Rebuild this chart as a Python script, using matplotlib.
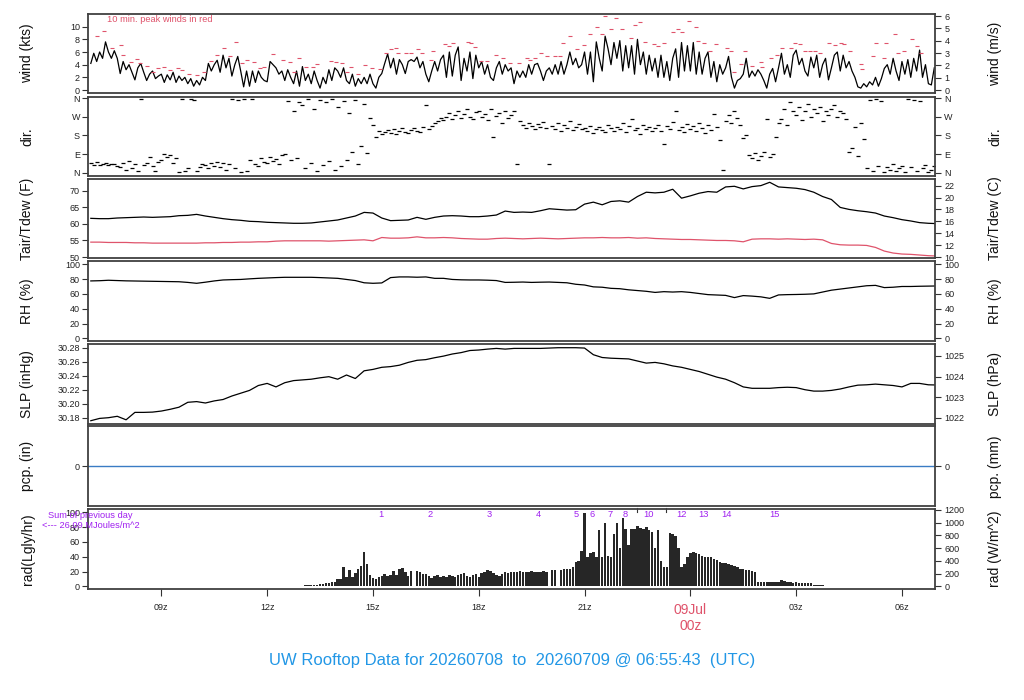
import numpy as np
import matplotlib
matplotlib.use('Agg')
import matplotlib.pyplot as plt

plt.rcParams['font.family'] = ['Liberation Sans', 'DejaVu Sans']

# ---------------- data (hours since 00z 8 Jul) ----------------
wind_start, wind_step = 7.0, 1.0 / 12.0
wind_kts = [
    4.2, 5.8, 4.5, 6.0, 5.0, 7.6, 6.0, 5.0, 6.2, 5.0, 2.6, 4.5,
    3.2, 4.0, 2.8, 1.6, 3.5, 4.2, 2.8, 1.5, 2.5, 3.0, 1.8, 2.2,
    2.5, 1.2, 2.4, 1.6, 2.8, 1.2, 2.2, 1.5, 2.0, 1.0, 1.8, 0.6,
    1.5, 0.8, 2.0, 1.5, 4.2, 3.0, 4.0, 4.7, 2.8, 5.5, 3.5, 5.0,
    2.2, 4.0, 5.3, 3.0, 0.5, 3.0, 0.6, 3.0, 1.2, 3.0, 2.0, 1.5,
    1.3, 4.5, 4.0, 3.5, 2.5, 3.0, 1.5, 3.2, 2.0, 1.0, 3.0, 0.6,
    3.7, 1.5, 2.5, 1.0, 3.0, 1.5, 0.3, 2.0, 1.0, 3.2, 1.5, 3.5,
    3.0, 2.0, 3.5, 1.5, 1.0, 2.5, 0.6, 1.8, 1.0, 2.0, 1.0, 2.5,
    1.0, 0.3, 2.0, 2.6, 4.2, 5.7, 3.5, 5.0, 2.5, 4.8, 4.0, 2.6,
    4.5, 4.8, 4.5, 5.2, 3.5, 4.5, 2.5, 1.3, 3.0, 4.5, 3.0, 4.8,
    5.5, 2.0, 6.0, 2.2, 5.5, 6.8, 1.5, 5.0, 3.0, 6.0, 1.8, 5.5,
    3.5, 4.5, 2.5, 4.0, 2.0, 1.5, 3.5, 4.5, 2.5, 4.0, 3.0, 3.5,
    1.0, 3.0, 2.0, 3.0, 2.0, 4.0, 2.5, 4.0, 4.2, 3.0, 1.5, 3.0,
    3.5, 2.5, 4.0, 2.5, 4.5, 2.5, 4.0, 6.0, 4.0, 5.0, 3.5, 4.0,
    6.0, 2.5, 6.0, 1.3, 7.6, 5.0, 3.0, 8.5, 6.5, 4.0, 7.5, 5.0,
    7.8, 3.0, 7.0, 3.5, 7.0, 2.5, 8.0, 4.0, 6.0, 2.5, 5.5, 3.0,
    5.0, 2.0, 5.5, 2.0, 4.5, 1.5, 5.0, 6.5, 2.0, 7.5, 3.0, 7.0,
    3.0, 7.5, 2.5, 6.0, 2.5, 5.0, 6.0, 2.0, 4.5, 1.3, 4.0, 2.5,
    3.5, 5.3, 2.0, 0.3, 1.5, 1.8, 2.5, 5.0, 2.0, 3.0, 2.2, 3.2,
    2.5, 1.5, 0.3, 2.5, 3.4, 1.3, 3.5, 5.8, 2.5, 4.0, 2.0, 5.5,
    6.3, 4.0, 5.0, 3.0, 2.2, 5.2, 3.5, 5.5, 2.0, 4.0, 5.0, 1.6,
    3.5, 5.5, 6.0, 3.0, 5.5, 3.5, 4.5, 3.0, 2.0, 0.5, 0.3, 1.0,
    0.5, 1.3, 0.8, 2.0, 0.6, 1.8, 3.4, 4.0, 2.5, 5.0, 3.0, 1.5,
    4.5, 2.5, 4.8, 2.0, 5.0, 3.0, 6.3, 2.0, 4.0, 1.0, 0.8, 3.5,
]
wind_dir = [
    45, 38, 50, 35, 42, 48, 36, 44, 40, 30, 25, 45,
    15, 55, 20, 40, 10, 358, 35, 45, 75, 30, 10, 50,
    60, 90, 75, 85, 45, 70, 5, 355, 10, 20, 358, 350,
    10, 25, 40, 35, 20, 45, 30, 50, 25, 45, 15, 40,
    358, 20, 352, 5, 355, 10, 60, 355, 40, 30, 70, 50,
    45, 78, 55, 65, 40, 85, 90, 345, 60, 300, 70, 340,
    330, 20, 355, 45, 310, 10, 350, 35, 340, 55, 358, 15,
    320, 30, 345, 60, 290, 100, 350, 40, 130, 335, 95, 265,
    230, 175, 200, 185, 195, 205, 190, 210, 185, 200, 215, 195,
    190, 205, 215, 200, 195, 220, 330, 210, 225, 240, 250, 265,
    255, 270, 290, 260, 280, 300, 265, 285, 310, 270, 260, 295,
    300, 270, 285, 255, 310, 175, 275, 290, 240, 300, 265, 280,
    300, 40, 250, 230, 215, 240, 225, 210, 235, 220, 245, 215,
    42, 225, 210, 240, 200, 230, 215, 250, 205, 220, 235, 210,
    215, 200, 225, 190, 210, 220, 205, 195, 230, 215, 200, 220,
    210, 240, 195, 225, 260, 205, 215, 185, 230, 210, 220, 200,
    215, 230, 200, 140, 225, 210, 245, 300, 205, 220, 195, 235,
    210, 225, 200, 240, 215, 190, 230, 205, 285, 220, 160, 15,
    250, 280, 240, 300, 265, 230, 170, 180, 85, 70, 95, 60,
    80, 100, 260, 75, 90, 175, 240, 260, 310, 230, 340, 300,
    280, 320, 255, 300, 335, 270, 310, 290, 320, 250, 300, 280,
    310, 330, 270, 300, 290, 260, 100, 120, 220, 80, 240, 165,
    20, 350, 10, 355, 30, 345, 5, 25, 15, 40, 10, 20,
    30, 5, 355, 25, 350, 10, 345, 20, 35, 5, 15, 30,
]
peak_t = [7.17, 7.38, 7.61, 7.85, 7.90, 8.13, 8.32, 8.40, 8.58, 8.76, 8.91, 9.07,
          9.24, 9.47, 9.59, 9.78, 10.02, 10.21, 10.42, 10.58, 10.77, 10.96, 11.13,
          11.29, 11.43, 11.64, 11.79, 11.92, 12.17, 12.45, 12.64, 12.77, 12.90,
          13.10, 13.30, 13.42, 13.80, 13.96, 14.11, 14.25, 14.39, 14.59, 14.77,
          14.96, 15.19, 15.38, 15.50, 15.64, 15.72, 15.94, 16.07, 16.28, 16.40,
          16.66, 16.71, 17.03, 17.17, 17.27, 17.70, 17.79, 17.89, 18.05, 18.22,
          18.49, 18.68, 18.90, 19.14, 19.36, 19.45, 19.59, 19.77, 19.94, 20.16,
          20.30, 20.40, 20.60, 20.79, 20.98, 21.15, 21.34, 21.50, 21.58, 21.74,
          21.89, 22.07, 22.32, 22.43, 22.57, 22.72, 22.96, 23.08, 23.25, 23.51,
          23.64, 23.75, 23.95, 24.15, 24.22, 24.38, 24.57, 24.74, 25.04, 25.15,
          25.24, 25.45, 25.54, 25.74, 26.00, 26.02, 26.30, 26.46, 26.59, 26.84,
          26.96, 27.10, 27.25, 27.40, 27.53, 27.69, 27.94, 28.10, 28.26, 28.37,
          28.54, 28.85, 28.88, 29.17, 29.25, 29.50, 29.56, 29.81, 29.88, 30.07,
          30.28, 30.43, 30.55]
peak_kts = [8.5, 9.3, 6.6, 7.1, 5.6, 4.5, 4.9, 4.2, 3.8, 2.9, 3.4, 3.7,
            3.1, 3.4, 3.1, 2.5, 2.3, 2.8, 4.6, 5.6, 6.7, 5.4, 7.6,
            4.2, 4.8, 4.5, 3.4, 3.6, 5.7, 4.8, 4.4, 2.8, 5.1,
            3.7, 3.6, 4.1, 4.6, 4.4, 4.2, 2.9, 3.6, 2.5, 3.9,
            3.4, 3.3, 5.8, 6.5, 6.7, 5.8, 5.8, 5.8, 6.4, 5.9,
            4.8, 6.1, 7.2, 6.9, 7.4, 7.6, 7.5, 6.8, 4.6, 4.6,
            5.5, 5.0, 4.3, 4.2, 5.1, 4.8, 5.0, 5.8, 5.4, 5.3,
            5.4, 7.5, 8.5, 6.4, 7.1, 8.9, 9.9, 8.8, 11.7, 9.7,
            11.4, 9.6, 8.2, 10.3, 10.7, 7.6, 7.2, 6.9, 7.4, 9.1,
            9.6, 9.1, 10.9, 9.9, 7.8, 7.5, 6.1, 7.3, 6.6, 6.1,
            2.8, 4.1, 6.1, 3.8, 4.5, 3.6, 5.1, 5.6, 6.6, 6.7,
            7.5, 7.2, 6.1, 6.1, 6.2, 5.8, 7.5, 7.1, 7.4, 7.2,
            6.2, 4.1, 3.3, 5.4, 7.5, 5.0, 7.5, 8.9, 5.8, 6.2,
            8.0, 6.9, 5.8]

th_start, th_step = 7.0, 0.25
tair_f = [61.7, 61.6, 61.6, 61.8, 61.9, 62.0, 62.1, 62.0, 62.1, 62.2, 62.5, 62.6,
          62.9, 62.4, 62.0, 61.6, 61.3, 61.1, 60.8, 60.7, 60.5, 60.4, 60.3, 60.2,
          60.2, 60.3, 60.6, 60.9, 61.2, 61.8, 62.4, 63.5, 63.3, 61.8, 61.0, 61.1,
          61.2, 62.0, 61.4, 62.0, 62.4, 62.5, 62.4, 62.2, 62.2, 62.4, 62.7, 63.9,
          63.5, 63.6, 63.5, 64.0, 64.6, 64.4, 64.2, 64.3, 66.0, 66.6, 65.8, 66.8,
          67.0, 66.6, 68.3, 69.6, 69.4, 69.6, 70.5, 67.8, 68.5, 69.3, 69.8, 69.6,
          71.2, 71.4, 70.6, 71.3, 71.6, 72.6, 71.2, 71.0, 70.8, 70.4, 69.6, 68.3,
          67.4, 65.0, 64.4, 64.0, 63.7, 63.3, 62.4, 61.9, 61.3, 60.9, 60.4, 60.2, 60.1]
tdew_f = [54.5, 54.5, 54.4, 54.4, 54.4, 54.3, 54.3,
          54.2, 54.2, 54.2, 54.2, 54.2, 54.2,
          54.3, 54.3, 54.4, 54.4, 54.5, 54.5, 54.6, 54.6,
          54.8, 54.9, 54.9, 54.9, 54.9, 54.9,
          54.8, 54.9, 55.0, 55.1,
          55.2, 54.9, 55.9, 55.7, 55.7, 55.8, 56.1, 55.8, 55.8, 55.9, 55.8, 55.6,
          55.5, 55.4, 55.4, 55.6, 55.7,
          55.6, 55.5, 55.6, 55.7, 55.6, 55.5, 55.6, 55.7, 55.8,
          55.8, 55.9, 55.8, 55.8, 55.9, 55.7, 55.8, 55.6, 55.5, 55.4, 55.3, 55.3,
          55.2, 55.1, 55.0, 55.0, 54.9, 54.6,
          55.4, 55.5, 55.5, 55.4, 55.5, 55.4, 55.3, 55.4, 55.2,
          54.1, 53.7, 53.6, 53.6, 53.5, 52.9, 51.8, 51.2, 50.9, 50.8, 50.6, 50.4, 50.3]
rh_pct = [77.5, 77.8, 78.4, 78.0, 77.6, 77.4, 77.2,
          77.0, 76.8, 76.6, 76.4, 75.5, 74.3,
          75.8, 77.5, 78.8, 79.2, 79.5, 80.3, 81.0, 81.5,
          82.0, 82.4, 82.4, 82.4, 82.4, 82.0,
          81.5, 81.0, 79.5, 78.0,
          75.0, 74.3, 74.8, 82.0, 82.9, 82.9, 82.5, 82.9, 81.0, 81.0, 79.5, 79.0,
          78.8, 78.8, 78.5, 78.0, 75.5,
          75.7, 76.0, 75.5, 75.8, 76.0, 75.5, 75.0, 73.0, 72.0,
          69.5, 69.0, 67.5, 67.0, 65.5, 64.5, 63.5, 62.0, 63.0, 62.5, 63.0, 62.0,
          60.5, 59.0, 58.5, 58.0, 55.0, 57.7,
          57.0, 56.0, 54.0, 58.6, 59.0, 59.2, 59.5, 60.0, 62.5,
          65.0, 66.5, 68.0, 69.5, 71.0, 71.5, 68.5, 69.0, 70.0, 70.0, 70.3, 70.5, 70.7]
slp_inhg = [30.1757, 30.179, 30.180, 30.182, 30.177, 30.1876, 30.1876, 30.188,
            30.1895, 30.192, 30.195, 30.202, 30.203, 30.201, 30.204, 30.206,
            30.211, 30.215, 30.219, 30.226, 30.229, 30.224, 30.230, 30.233,
            30.234, 30.235, 30.237, 30.2386, 30.235, 30.241, 30.236, 30.247,
            30.249, 30.252, 30.253, 30.255, 30.259, 30.262, 30.263, 30.2657,
            30.268, 30.271, 30.273, 30.276, 30.2767, 30.278, 30.279, 30.278,
            30.279, 30.279, 30.279, 30.279, 30.2795, 30.280, 30.280, 30.280,
            30.2795, 30.270, 30.266, 30.265, 30.2645, 30.264, 30.261, 30.258,
            30.259, 30.257, 30.254, 30.252, 30.249, 30.246, 30.242, 30.238,
            30.235, 30.230, 30.224, 30.222, 30.222, 30.222, 30.223, 30.2235,
            30.223, 30.220, 30.218, 30.218, 30.219, 30.221, 30.224, 30.2265,
            30.227, 30.228, 30.227, 30.226, 30.224, 30.229, 30.229, 30.227, 30.2267]

pcp_start = 6.9286
pcp_in = [0.0] * 25

rad_start, rad_step = 12.0, 1.0 / 12.0
rad_lgly = [
    0.3, 0.3, 0.4, 0.4, 0.5, 0.5, 0.6, 0.6, 0.7, 0.8, 0.9, 1.0,
    1.1, 1.3, 1.5, 1.8, 2.0, 2.4, 3.0, 3.6, 4.2, 4.8, 5.2, 5.5,
    9.5, 10, 26, 12, 22, 12, 18, 24, 27, 47, 30, 15,
    11, 10, 12, 14, 16, 14, 15, 21, 15, 24, 25, 20,
    14, 21, 0, 21, 20, 17, 16, 14, 11, 14, 15, 13,
    14, 13, 15, 14, 13, 15, 16, 18, 14, 13, 15, 16,
    13, 18, 20, 22, 21, 18, 15, 14, 17, 19, 18, 20,
    19, 20, 21, 19, 20, 19, 21, 20, 19, 20, 21, 20,
    0, 22, 22, 0, 22, 23, 23, 24, 26, 33, 34, 48,
    99, 40, 45, 47, 40, 76, 39, 86, 41, 39, 70, 86,
    52, 92, 78, 56, 77, 77, 81, 79, 77, 80, 76, 73,
    52, 76, 34, 26, 26, 72, 70, 68, 52, 26, 30, 39,
    45, 46, 45, 43, 41, 40, 40, 39, 37, 35, 33, 32,
    31, 30, 29, 28, 26, 24, 23, 22, 22, 21, 19, 6,
    6, 6.5, 6, 6, 5.5, 6, 6, 8.6, 7, 6, 6, 5,
    6, 5, 5, 4.5, 4, 4, 2.0, 1.8, 1.5, 1.2, 1.0, 0.9,
    0.8, 0.8, 0.7, 0.6, 0.5, 0.5, 0.4,
]
mark_labels = ['1', '2', '3', '4', '5', '6', '7', '8', '9', '10', '11', '12', '13', '14', '15']
mark_hours = [15.23, 16.61, 18.31, 19.70, 20.75, 21.20, 21.72, 22.14, 22.48, 22.81,
              23.30, 23.76, 24.37, 25.02, 26.39]
hidden_marks = ['9', '11']
prev_day_sum = '26.09'

xtick_hours = [9, 12, 15, 18, 21, 24, 27, 30]
xtick_labels = ['09z', '12z', '15z', '18z', '21z', '09Jul\n00z', '03z', '06z']
title = 'UW Rooftop Data for 20260708  to  20260709 @ 06:55:43  (UTC)'

# ---------------- styling ----------------
RED = '#DF536B'
PURPLE = '#A020F0'
BLUE = '#2297E6'
PCP_BLUE = '#3a7cc4'
FRAME = '#404040'
KT2MS = 0.514444
INHG2HPA = 33.8639
LY2WM2 = 11.63
XLIM = (6.9286, 30.9286)

W, H = 1024, 700
fig = plt.figure(figsize=(W / 100, H / 100), dpi=100)
X0, X1 = 88.3, 934.7
panels_px = [(14, 93.3), (96.7, 175.7), (179, 258), (261.3, 341),
             (344, 424), (426.3, 506.3), (509.3, 589)]


def mkax(top, bot):
    ax = fig.add_axes([X0 / W, 1 - bot / H, (X1 - X0) / W, (bot - top) / H])
    ax.set_xlim(XLIM)
    ax.set_xticks([])
    for s in ax.spines.values():
        s.set_color(FRAME)
        s.set_linewidth(1.3)
    ax.tick_params(axis='y', direction='out', length=4, width=0.8, labelsize=6.5,
                   pad=2, color='#333333', labelcolor='#222222')
    return ax


def twin(ax, ylim, ticks, labels=None):
    a2 = ax.twinx()
    a2.set_ylim(ylim)
    a2.set_yticks(ticks)
    if labels is not None:
        a2.set_yticklabels(labels)
    for s in a2.spines.values():
        s.set_visible(False)
    a2.tick_params(axis='y', direction='out', length=4, width=0.8, labelsize=6.5,
                   pad=3, color='#333333', labelcolor='#222222')
    return a2


axes = [mkax(t, b) for t, b in panels_px]
centers = [(t + b) / 2 for t, b in panels_px]
left_labels = ['wind (kts)', 'dir.', 'Tair/Tdew (F)', 'RH (%)', 'SLP (inHg)', 'pcp. (in)', 'rad(Lgly/hr)']
right_labels = ['wind (m/s)', 'dir.', 'Tair/Tdew (C)', 'RH (%)', 'SLP (hPa)', 'pcp. (mm)', 'rad (W/m^2)']
for c, ll, rl in zip(centers, left_labels, right_labels):
    fig.text(27.5 / W, 1 - c / H, ll, rotation=90, ha='center', va='center', fontsize=10, color='#111111')
    fig.text(995 / W, 1 - c / H, rl, rotation=90, ha='center', va='center', fontsize=10, color='#111111')

# wind
wt = wind_start + wind_step * np.arange(len(wind_kts))
ax = axes[0]
ax.plot(wt, wind_kts, color='black', lw=0.9)
ax.plot(peak_t, peak_kts, ls='none', marker='_', ms=3.2, mew=0.8, color=RED)
ylw = (-0.52, 12.0)
ax.set_ylim(ylw)
ax.set_yticks(range(0, 11, 2))
twin(ax, (ylw[0] * KT2MS, ylw[1] * KT2MS), range(0, 7))
fig.text(107 / W, 1 - 20 / H, '10 min. peak winds in red', ha='left', va='center', fontsize=6.7, color=RED)

# direction
dt = wind_start + wind_step * np.arange(len(wind_dir))
ax = axes[1]
ax.plot(dt, wind_dir, ls='none', marker='_', ms=3.2, mew=0.9, color='black')
yld = (-15, 368)
ax.set_ylim(yld)
ax.set_yticks([0, 90, 180, 270, 360])
ax.set_yticklabels(['N', 'E', 'S', 'W', 'N'])
twin(ax, yld, [0, 90, 180, 270, 360], ['N', 'E', 'S', 'W', 'N'])

# temperature
tt = th_start + th_step * np.arange(len(tair_f))
tdt = th_start + th_step * np.arange(len(tdew_f))
ax = axes[2]
ax.plot(tt, tair_f, color='black', lw=0.9)
ax.plot(tdt, tdew_f, color=RED, lw=0.9)
ylt = (49.7, 73.6)
ax.set_ylim(ylt)
ax.set_yticks(range(50, 71, 5))
twin(ax, ((ylt[0] - 32) / 1.8, (ylt[1] - 32) / 1.8), range(10, 23, 2))

# RH
rt_ = th_start + th_step * np.arange(len(rh_pct))
ax = axes[3]
ax.plot(rt_, rh_pct, color='black', lw=0.9)
ylr = (-3.6, 104)
ax.set_ylim(ylr)
ax.set_yticks(range(0, 101, 20))
twin(ax, ylr, range(0, 101, 20))

# SLP
st = th_start + th_step * np.arange(len(slp_inhg))
ax = axes[4]
ax.plot(st, slp_inhg, color='black', lw=0.9)
yls = (30.171, 30.2853)
ax.set_ylim(yls)
sl_ticks = [30.18, 30.20, 30.22, 30.24, 30.26, 30.28]
ax.set_yticks(sl_ticks)
ax.set_yticklabels(['%.2f' % v for v in sl_ticks])
twin(ax, (yls[0] * INHG2HPA, yls[1] * INHG2HPA), [1022, 1023, 1024, 1025])

# precipitation
pt = pcp_start + np.arange(len(pcp_in))
ax = axes[5]
ax.plot(pt, pcp_in, color=PCP_BLUE, lw=1.0)
ax.set_ylim(-1, 1)
ax.set_yticks([0])
twin(ax, (-25.4, 25.4), [0])

# radiation
rdt = rad_start + rad_step * np.arange(len(rad_lgly))
ax = axes[6]
ax.bar(rdt, rad_lgly, width=0.07, color='#262626', align='center', linewidth=0)
ylrad = (-3.6, 104)
ax.set_ylim(ylrad)
ax.set_yticks(range(0, 101, 20))
twin(ax, (ylrad[0] * LY2WM2, ylrad[1] * LY2WM2), range(0, 1201, 200))
for lab, h in zip(mark_labels, mark_hours):
    if lab in hidden_marks:
        ax.plot([h, h], [101.0, 105.5], color='#333333', lw=0.8, clip_on=False)
    else:
        ax.text(h, 96.4, lab, ha='center', va='center', fontsize=6.7, color=PURPLE)
fig.text(90.5 / W, 1 - 515 / H, 'Sum of previous day', ha='center', va='center', fontsize=6.7, color=PURPLE)
fig.text(91 / W, 1 - 526 / H, '<--- %s MJoules/m^2' % prev_day_sum, ha='center', va='center',
         fontsize=6.7, color=PURPLE)

ax.set_xticks(xtick_hours)
ax.set_xticklabels(xtick_labels)
ax.tick_params(axis='x', direction='out', length=5, width=0.8, labelsize=6.5, pad=5,
               color='#333333', labelcolor='#222222')
lbl = ax.get_xticklabels()[5]
lbl.set_color(RED)
lbl.set_fontsize(10)

fig.text(512 / W, 1 - 660 / H, title, ha='center', va='center', fontsize=12, color=BLUE)

fig.savefig('out.png', dpi=100)
